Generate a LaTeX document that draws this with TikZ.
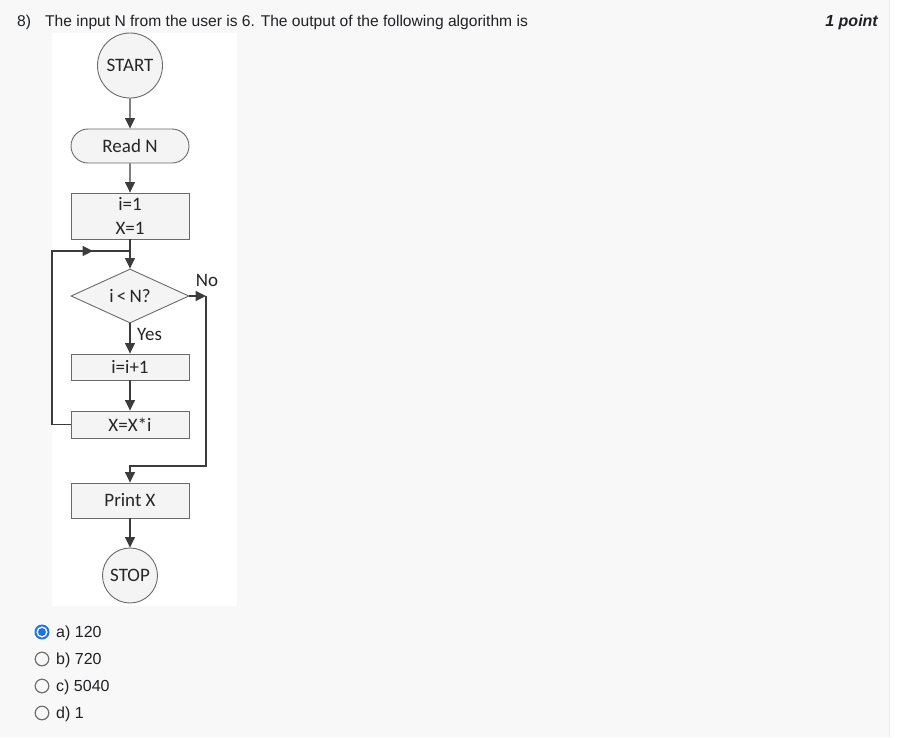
\documentclass[tikz,border=0pt]{standalone}
\usepackage{fontspec}
\setmainfont{Liberation Sans}
\newfontfamily\calfont{Carlito}
\usetikzlibrary{arrows.meta,shapes.geometric,shapes.misc}
\definecolor{pagebg}{HTML}{F8F8F8}
\definecolor{txt}{HTML}{202124}
\definecolor{fcline}{HTML}{3C3C3C}
\definecolor{boxdraw}{HTML}{6A6A6A}
\definecolor{boxfill}{HTML}{F4F4F4}
\definecolor{radioblue}{HTML}{1A73E8}
\definecolor{radiogrey}{HTML}{6F6F6F}
\begin{document}
\begin{tikzpicture}[x=1pt,y=-1pt,
  fc/.style={font=\calfont\fontsize{19}{22}\selectfont, text=black!85},
  term/.style={fc, circle, draw=boxdraw, fill=boxfill, line width=0.9pt, inner sep=0pt},
  procbox/.style={fc, rectangle, draw=boxdraw, fill=boxfill, line width=0.9pt, minimum width=118, inner sep=0pt},
  iobox/.style={fc, rounded rectangle, draw=boxdraw, fill=boxfill, line width=0.9pt, minimum width=118, minimum height=34, inner sep=0pt},
  decbox/.style={fc, diamond, draw=boxdraw, fill=boxfill, line width=0.9pt, minimum width=118, minimum height=54, inner sep=0pt, aspect=2.2},
  conn/.style={draw=fcline, line width=1.1pt},
  arr/.style={conn, -{Triangle[length=10.5pt,width=10pt]}},
  qtext/.style={font=\fontsize{15.6}{19}\selectfont, text=txt, inner sep=0pt, anchor=base west},
  opt/.style={font=\fontsize{16}{19}\selectfont, text=txt, inner sep=0pt, anchor=west}
]
\useasboundingbox (0,0) rectangle (902,737);
\fill[pagebg] (0,0) rectangle (889,737);
\fill[white] (889,0) rectangle (902,737);
\draw[black!8, line width=0.8pt] (889,0) -- (889,737);

% header
\node[qtext] (qnum) at (17,26) {8)};
\node[qtext] (qtxt) at (45,26) {The input N from the user is 6. The output of the following algorithm is};
\node[qtext, anchor=base east, font=\bfseries\itshape\fontsize{16}{19}\selectfont] (pts) at (878,26) {1 point};

% flowchart image background
\fill[white] (52,33) rectangle (237,606);

\node[term, minimum size=65] (start) at (130,65.5) {START};
\node[iobox] (read) at (130,146) {Read N};
\node[procbox, minimum height=46, align=center, font=\calfont\fontsize{19}{24}\selectfont] (init) at (130,216) {i=1\\X=1};
\node[decbox] (dec) at (130,296) {i\,{<}\,N?};
\node[procbox, minimum height=26] (inc) at (130,367) {i=i+1};
\node[procbox, minimum height=27] (mul) at (130,424.5) {X=X*i};
\node[procbox, minimum height=35] (print) at (130,500.5) {Print X};
\node[term, minimum size=55] (stop) at (130,575.5) {STOP};

\node[fc, inner sep=0pt] (no) at (207,280) {No};
\node[fc, inner sep=0pt, anchor=west] (yes) at (137,334) {Yes};

\coordinate (lpb) at (52,424.5);
\coordinate (lpt) at (52,251);
\coordinate (lpa) at (93,251);
\coordinate (join) at (130,251);
\coordinate (nc) at (206,296);
\coordinate (nb) at (206,466);

\draw[arr] (start) -- (read);
\draw[arr] (read) -- (init);
\draw[arr] (init) -- (dec);
\draw[arr] (dec) -- (inc);
\draw[arr] (inc) -- (mul);
\draw[conn] (mul.west) -- (lpb) -- (lpt) -- (join);
\draw[arr] (lpt) -- (lpa);
\draw[arr] (dec.east) -- (nc);
\draw[arr] (nc) -- (nb) -| (print.north);
\draw[arr] (print) -- (stop);

% options
\fill[radioblue] (42,632) circle (7.5);
\fill[white] (42,632) circle (5.6);
\fill[radioblue] (42,632) circle (4);
\draw[radiogrey, line width=1.2pt] (42,659) circle (6.8);
\draw[radiogrey, line width=1.2pt] (42,686) circle (6.8);
\draw[radiogrey, line width=1.2pt] (42,713) circle (6.8);
\node[opt] (oa) at (56,633) {a) 120};
\node[opt] (ob) at (56,660) {b) 720};
\node[opt] (oc) at (56,687) {c) 5040};
\node[opt] (od) at (56,714) {d) 1};
\end{tikzpicture}
\end{document}
